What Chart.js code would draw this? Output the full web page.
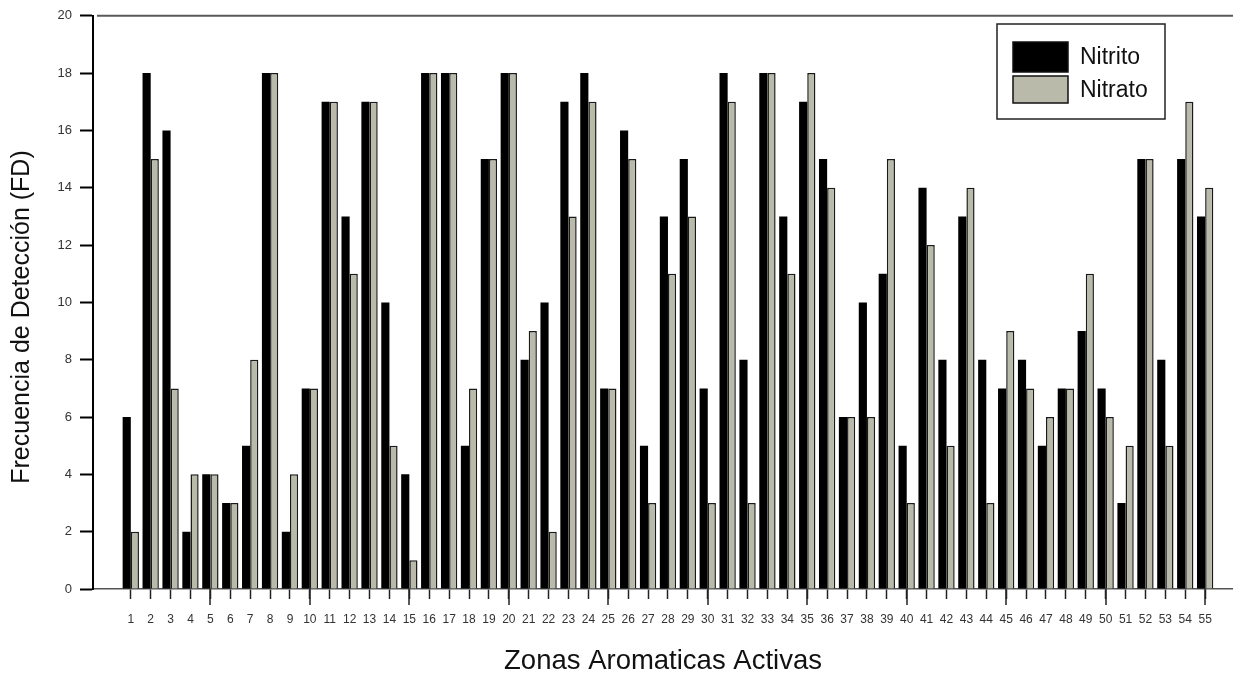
<!DOCTYPE html>
<html>
<head>
<meta charset="utf-8">
<script src="https://cdn.jsdelivr.net/npm/chart.js@4.4.1/dist/chart.umd.min.js"></script>
<style>
  html, body { margin: 0; padding: 0; background: #ffffff; }
  #wrap { position: relative; width: 1233px; height: 675px; }
  canvas { display: block; }
</style>
</head>
<body>
<div id="wrap"><canvas id="c" width="1233" height="675"></canvas></div>
<script>
// Zonas aromáticas activas (1..55)
const zonas = [
  1, 2, 3, 4, 5, 6, 7, 8, 9, 10, 11, 12, 13, 14, 15, 16, 17, 18, 19, 20,
  21, 22, 23, 24, 25, 26, 27, 28, 29, 30, 31, 32, 33, 34, 35, 36, 37, 38, 39, 40,
  41, 42, 43, 44, 45, 46, 47, 48, 49, 50, 51, 52, 53, 54, 55
];

// Frecuencia de detección con nitrito
const nitrito = [
  6, 18, 16, 2, 4, 3, 5, 18, 2, 7, 17, 13, 17, 10, 4, 18, 18, 5, 15, 18,
  8, 10, 17, 18, 7, 16, 5, 13, 15, 7, 18, 8, 18, 13, 17, 15, 6, 10, 11, 5,
  14, 8, 13, 8, 7, 8, 5, 7, 9, 7, 3, 15, 8, 15, 13
];

// Frecuencia de detección con nitrato
const nitrato = [
  2, 15, 7, 4, 4, 3, 8, 18, 4, 7, 17, 11, 17, 5, 1, 18, 18, 7, 15, 18,
  9, 2, 13, 17, 7, 15, 3, 11, 13, 3, 17, 3, 18, 11, 18, 14, 6, 6, 15, 3,
  12, 5, 14, 3, 9, 7, 6, 7, 11, 6, 5, 15, 5, 17, 14
];

// Marcas del eje Y
const yTicks = [0, 2, 4, 6, 8, 10, 12, 14, 16, 18, 20];

const serieNombres = ['Nitrito', 'Nitrato'];
const serieColores = ['#000000', '#b9baa9'];
const serieBordes = ['#000000', '#1a1a1a'];
const serieGrosor = [0, 1.5];
const tituloY = 'Frecuencia de Detección (FD)';

const FONT = "'Liberation Sans', Arial, Helvetica, sans-serif";

// Top frame line, longer ticks every fifth zone, y title and the boxed legend
const decor = {
  id: 'decor',
  afterDraw(chart) {
    const ctx = chart.ctx;
    const area = chart.chartArea;
    const xs = chart.scales.x;
    ctx.save();

    // top frame
    ctx.strokeStyle = '#5a5a5a';
    ctx.lineWidth = 2;
    ctx.beginPath();
    ctx.moveTo(area.left + 4, area.top);
    ctx.lineTo(area.right, area.top);
    ctx.stroke();

    // long ticks
    ctx.strokeStyle = '#222222';
    ctx.lineWidth = 1.5;
    zonas.forEach(z => {
      if (z % 5 === 0) {
        const px = Math.round(xs.getPixelForValue(z));
        ctx.beginPath();
        ctx.moveTo(px, area.bottom);
        ctx.lineTo(px, area.bottom + 16);
        ctx.stroke();
      }
    });

    // y axis title
    ctx.save();
    ctx.translate(22, 317);
    ctx.rotate(-Math.PI / 2);
    ctx.fillStyle = '#111111';
    ctx.font = '25px ' + FONT;
    ctx.textAlign = 'center';
    ctx.textBaseline = 'middle';
    ctx.fillText(tituloY, 0, 0);
    ctx.restore();

    // legend
    const bx = 997, by = 24, bw = 168, bh = 95;
    ctx.fillStyle = '#ffffff';
    ctx.fillRect(bx, by, bw, bh);
    ctx.strokeStyle = '#222222';
    ctx.lineWidth = 1.5;
    ctx.strokeRect(bx, by, bw, bh);
    const rows = [{ y: 42, h: 30 }, { y: 76, h: 27 }];
    chart.data.datasets.forEach((ds, i) => {
      const r = rows[i];
      ctx.fillStyle = ds.backgroundColor;
      ctx.fillRect(1013, r.y, 55, r.h);
      ctx.strokeStyle = '#111111';
      ctx.lineWidth = 1.5;
      ctx.strokeRect(1013, r.y, 55, r.h);
      ctx.fillStyle = '#111111';
      ctx.font = '23px ' + FONT;
      ctx.textBaseline = 'middle';
      ctx.textAlign = 'left';
      ctx.fillText(ds.label, 1080, r.y + r.h / 2 + 1);
    });
    ctx.restore();
  }
};

const datasets = [nitrito, nitrato].map((vals, i) => ({
  label: serieNombres[i],
  data: zonas.map((z, k) => ({ x: z, y: vals[k] })),
  backgroundColor: serieColores[i],
  borderColor: serieBordes[i],
  borderWidth: serieGrosor[i],
  borderSkipped: 'bottom',
  barPercentage: 1.0,
  categoryPercentage: 0.82
}));

new Chart(document.getElementById('c'), {
  type: 'bar',
  data: { datasets },
  options: {
    responsive: false,
    animation: false,
    layout: { padding: { top: 15, right: 0, bottom: 0, left: 0 } },
    plugins: {
      legend: { display: false },
      tooltip: { enabled: false }
    },
    scales: {
      x: {
        type: 'linear',
        offset: false,
        min: -0.9,
        max: 56.4,
        afterFit(scale) { scale.height = 86; },
        afterBuildTicks(scale) { scale.ticks = zonas.map(z => ({ value: z })); },
        ticks: {
          autoSkip: false,
          maxRotation: 0,
          padding: 13,
          color: '#333333',
          font: { family: FONT, size: 12 },
          callback: (v) => String(v)
        },
        grid: {
          offset: false,
          drawOnChartArea: false,
          drawTicks: true,
          tickLength: 10,
          tickColor: '#222222',
          tickWidth: 1.5
        },
        border: { display: true, color: '#555555', width: 1.5 },
        title: {
          display: true,
          text: 'Zonas Aromaticas Activas',
          color: '#111111',
          font: { family: FONT, size: 27.5, lineHeight: 1 },
          padding: { top: 0, bottom: 0 }
        }
      },
      y: {
        min: 0,
        max: 20,
        afterFit(scale) { scale.width = 93; },
        afterBuildTicks(scale) { scale.ticks = yTicks.map(v => ({ value: v })); },
        ticks: {
          padding: 8,
          color: '#333333',
          font: { family: FONT, size: 13 }
        },
        grid: {
          drawOnChartArea: false,
          drawTicks: true,
          tickLength: 13,
          tickColor: '#000000',
          tickWidth: 2
        },
        border: { display: true, color: '#000000', width: 2 },
        title: { display: false }
      }
    }
  },
  plugins: [decor]
});
</script>
</body>
</html>
